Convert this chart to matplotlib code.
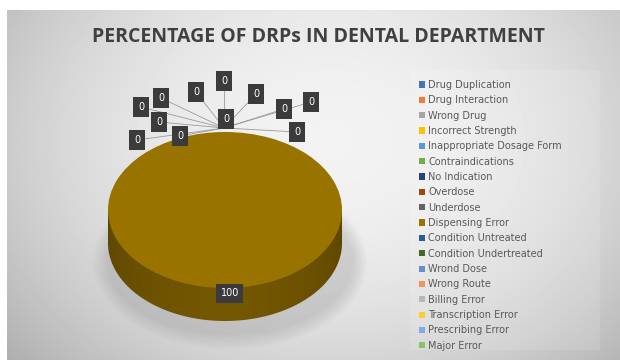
import numpy as np
import matplotlib
matplotlib.use("Agg")
import matplotlib.pyplot as plt
from matplotlib.colors import LinearSegmentedColormap
from matplotlib.patches import Patch, Ellipse, Polygon

categories = [
    "Drug Duplication", "Drug Interaction", "Wrong Drug", "Incorrect Strength",
    "Inappropriate Dosage Form", "Contraindications", "No Indication",
    "Overdose", "Underdose", "Dispensing Error", "Condition Untreated",
    "Condition Undertreated", "Wrond Dose", "Wrong Route", "Billing Error",
    "Transcription Error", "Prescribing Error", "Major Error",
]
percent = [0, 0, 0, 0, 0, 0, 0, 0, 0, 100, 0, 0, 0, 0, 0, 0, 0, 0]
colors = [
    "#4472C4", "#ED7D31", "#A5A5A5", "#FFC000", "#5B9BD5", "#70AD47",
    "#264478", "#9E480E", "#636363", "#997300", "#255E91", "#43682B",
    "#698ED0", "#F1975A", "#B7B7B7", "#FFCD33", "#7CAFDD", "#8CC168",
]

W, H = 620, 360
fig = plt.figure(figsize=(W / 100, H / 100), dpi=100)
fig.patch.set_facecolor("white")

# background panel with a soft radial grey gradient
bg = fig.add_axes([0, 0, 1, 1])
bg.axis("off")
yy, xx = np.mgrid[10:360, 7:620]
r = np.hypot((xx - 330) / 330, (yy - 140) / 260)
shade = np.clip(0.95 - 0.16 * r ** 2, 0, 1)
bg.imshow(shade, cmap="gray", vmin=0, vmax=1, extent=(7, 620, 360, 10),
          aspect="auto", interpolation="bilinear")
bg.set_xlim(0, W)
bg.set_ylim(H, 0)

# soft shadow beneath the pie
for k in range(8):
    bg.add_patch(Ellipse((230, 262), 246 + 4 * k, 146 + 4 * k,
                         color="#808080", alpha=0.035, lw=0))

# legend panel
bg.add_patch(plt.Rectangle((410, 70), 190, 280, color="white", alpha=0.12, lw=0))

fig.text(318 / W, 1 - 37 / H, "PERCENTAGE OF DRPs IN DENTAL DEPARTMENT",
         ha="center", va="center", fontsize=14, fontweight="bold",
         color="#404040", family="Open Sans")

# pie: top face squashed into an ellipse, side drawn below it
x0, x1, ytop, ybot = 108, 342, 132, 321
ax = fig.add_axes([x0 / W, 1 - ybot / H, (x1 - x0) / W, (ybot - ytop) / H])
depth = 33 / 78
ax.axis("off")

t = np.linspace(np.pi, 2 * np.pi, 200)
side = np.column_stack([np.cos(t), np.sin(t) - depth])
side = np.vstack([side, [[1, 0], [-1, 0]]])
side_clip = Polygon(side, closed=True, facecolor="none", edgecolor="none")
ax.add_patch(side_clip)
gx = np.linspace(0, 1, 200)
grad = np.tile(0.55 + 0.35 * np.sin(np.pi * gx) ** 0.6, (50, 1))
side_cmap = LinearSegmentedColormap.from_list("side", ["#3d2e00", "#7a5b00"])
side_img = ax.imshow(grad, cmap=side_cmap, vmin=0, vmax=1,
                     extent=(-1, 1, -1 - depth, 0), aspect="auto", zorder=1)
side_img.set_clip_path(side_clip)

wedges, _ = ax.pie(percent, colors=colors, startangle=90, counterclock=False,
                   radius=1, wedgeprops=dict(linewidth=0))
for w in wedges:
    w.set_zorder(2)
ax.set_aspect("auto")
ax.set_xlim(-1, 1)
ax.set_ylim(-1 - depth, 1)

ax.text(0.04, -1.07, f"{percent[9]:g}", ha="center", va="center",
        fontsize=7, color="white", zorder=5,
        bbox=dict(boxstyle="square,pad=0.45", fc="#3b3b3b", ec="none"))

# data labels for the zero slices, with leader lines to the top of the pie
top = fig.add_axes([0, 0, 1, 1])
top.set_xlim(0, W)
top.set_ylim(H, 0)
top.axis("off")

zero_pos = [
    (141, 107), (161, 98), (196, 92), (224, 81), (256, 94), (284, 109),
    (311, 102), (159, 122), (180, 136), (226, 119), (297, 132), (137, 140),
    (226, 119), (226, 119), (226, 119), (226, 119), (226, 119),
]
hub = (224, 128)
zero_cats = [(n, v) for n, v in zip(categories, percent) if v == 0]
for (name, val), (px, py) in zip(zero_cats, zero_pos):
    top.plot([px, hub[0]], [py, hub[1]], color="#9a9a9a", lw=0.6, zorder=3)
    top.text(px, py, f"{val:g}", ha="center", va="center", fontsize=7,
             color="white", zorder=4,
             bbox=dict(boxstyle="square,pad=0.55", fc="#3b3b3b", ec="none"))

handles = [Patch(facecolor=c, edgecolor="none") for c in colors]
leg = top.legend(handles, categories, loc="upper left",
                 bbox_to_anchor=(414 / W, 1 - 75 / H),
                 bbox_transform=fig.transFigure, frameon=False,
                 fontsize=7, labelspacing=0.55, handlelength=0.6,
                 handleheight=0.6, handletextpad=0.35, borderpad=0)
for txt in leg.get_texts():
    txt.set_color("#595959")

fig.savefig("out.png", dpi=100)
